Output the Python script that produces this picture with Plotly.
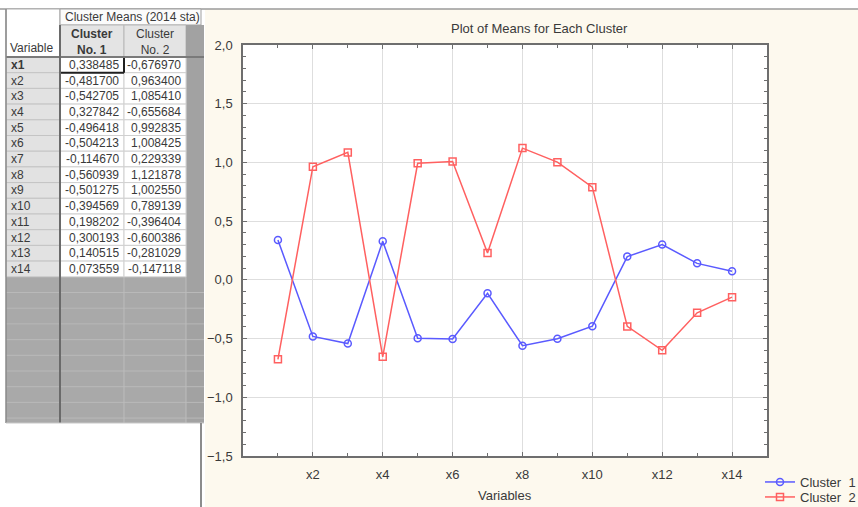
import plotly.graph_objects as go

# ---------------- data ----------------
variables = ["x1", "x2", "x3", "x4", "x5", "x6", "x7",
             "x8", "x9", "x10", "x11", "x12", "x13", "x14"]
cluster1 = [0.338485, -0.481700, -0.542705, 0.327842, -0.496418, -0.504213, -0.114670,
            -0.560939, -0.501275, -0.394569, 0.198202, 0.300193, 0.140515, 0.073559]
cluster2 = [-0.676970, 0.963400, 1.085410, -0.655684, 0.992835, 1.008425, 0.229339,
            1.121878, 1.002550, 0.789139, -0.396404, -0.600386, -0.281029, -0.147118]
series_names = ["Cluster\u00a0\u00a01", "Cluster\u00a0\u00a02"]
table_title = "Cluster Means (2014 sta)"
col_headers = ["Cluster<br>No. 1", "Cluster<br>No. 2"]
positions = list(range(1, len(variables) + 1))
tick_pos = positions[1::2]
tick_txt = variables[1::2]

# ---------------- layout helpers (pixel -> paper) ----------------
W, H = 858, 507
FONT = "Arial, Liberation Sans, sans-serif"
TXT = "#3a3a3a"
CREAM = "#fdf9ee"


def px(x):
    return x / W


def py(y):
    return 1 - y / H


shapes = []
annotations = []


def rect(x0, y0, x1, y1, fill, line_color=None, lw=0):
    shapes.append(dict(type="rect", xref="paper", yref="paper",
                       x0=px(x0), x1=px(x1), y0=py(y1), y1=py(y0),
                       fillcolor=fill, line=dict(width=lw, color=line_color or fill)))


def line(x0, y0, x1, y1, color, lw=1):
    shapes.append(dict(type="line", xref="paper", yref="paper",
                       x0=px(x0), x1=px(x1), y0=py(y0), y1=py(y1),
                       line=dict(width=lw, color=color)))


def text(x, y, s, xanchor="left", size=12, bold=False, color=TXT):
    if bold:
        s = "<b>" + s.replace("<br>", "</b><br><b>") + "</b>"
    annotations.append(dict(xref="paper", yref="paper", x=px(x), y=py(y), text=s,
                            showarrow=False, xanchor=xanchor, yanchor="middle",
                            font=dict(family=FONT, size=size, color=color)))


# ---------------- background pieces ----------------
rect(0, 0, 205, H, "white")
rect(0, 0, W, 9, "white")
line(0, 9, W, 9, "#9a9a9a", 1.5)

# ---------------- spreadsheet table ----------------
TL, C0, C1, C2, C3 = 6, 60, 124, 186, 204
HR1, HR2 = 9, 25
ROW0, ROWH = 57, 15.7
n = len(variables)
data_bottom = ROW0 + n * ROWH
GRAY_BOTTOM = 423

# header cells
rect(TL, HR1, C0, ROW0, "white", "#b0b0b0", 1)
rect(C0, HR1, 201, HR2, "#fbfbfb", "#a0a0a0", 1)
rect(C0, HR2, C1, ROW0, "#e4e4e4", "#b8b8b8", 1)
rect(C1, HR2, C2, ROW0, "#e4e4e4", "#b8b8b8", 1)
rect(C2, HR2, C3, GRAY_BOTTOM, "#a2a2a2")
# empty grey area below the data rows
rect(TL, data_bottom, C2, GRAY_BOTTOM, "#a9a9a9")
k = 1
while data_bottom + k * ROWH < GRAY_BOTTOM - 2:
    line(TL, data_bottom + k * ROWH, C3, data_bottom + k * ROWH, "#b9b9b9", 1)
    k += 1
line(C1, data_bottom, C1, GRAY_BOTTOM, "#bcbcbc", 1)
line(C2, ROW0, C2, GRAY_BOTTOM, "#bcbcbc", 1)

# data rows
for i, (v, a, b) in enumerate(zip(variables, cluster1, cluster2)):
    y0 = ROW0 + i * ROWH
    y1 = y0 + ROWH
    rect(TL, y0, C0, y1, "#e2e2e2", "#c4c4c4", 1)
    rect(C0, y0, C1, y1, "white", "#d0d0d0", 1)
    rect(C1, y0, C2, y1, "white", "#d0d0d0", 1)
    yc = (y0 + y1) / 2
    text(TL + 3, yc, v, bold=(i == 0))
    text(C1 - 3, yc, f"{a:.6f}".replace(".", ","), xanchor="right")
    text(C2 - 3, yc, f"{b:.6f}".replace(".", ","), xanchor="right")

# selected cell outline
line(C0 + 1, ROW0 + ROWH, C1, ROW0 + ROWH, "#202020", 2)
line(C1, ROW0, C1, ROW0 + ROWH, "#202020", 2)

# heavy separators
line(TL, ROW0, C3, ROW0, "#7a7a7a", 2)
line(C0, HR2, C0, GRAY_BOTTOM, "#6a6a6a", 2)
line(TL, HR1, TL, GRAY_BOTTOM, "#8a8a8a", 1.5)
line(TL, GRAY_BOTTOM, C3, GRAY_BOTTOM, "#c8c8c8", 1)
line(201, GRAY_BOTTOM, 201, H, "#8c8c8c", 2)

# header texts
text(C0 + 3, (HR1 + HR2) / 2, table_title)
text(TL + 2, 48, "Variable")
text((C0 + C1) / 2, 42, col_headers[0], xanchor="center", bold=True)
text((C1 + C2) / 2, 42, col_headers[1], xanchor="center")

# chart title & axis title
text(539, 29, "Plot of Means for Each Cluster", xanchor="center", size=13)
text(505, 495, "Variables", xanchor="center", size=13)

# ---------------- chart ----------------
fig = go.Figure()
fig.add_trace(go.Scatter(
    x=positions, y=cluster1, name=series_names[0], mode="lines+markers", legend="legend",
    line=dict(color="#5a5aff", width=1.5),
    marker=dict(symbol="circle-open", size=7, color="#5a5aff", line=dict(width=1.5))))
fig.add_trace(go.Scatter(
    x=positions, y=cluster2, name=series_names[1], mode="lines+markers", legend="legend2",
    line=dict(color="#ff6060", width=1.5),
    marker=dict(symbol="square-open", size=7, color="#ff6060", line=dict(width=1.5))))

axis_common = dict(showline=True, linecolor="#6e6e6e", linewidth=1.5, mirror="allticks",
                   ticks="inside", ticklen=4, tickcolor="#6e6e6e",
                   gridcolor="#dedede", gridwidth=1, zeroline=False, automargin=False,
                   tickfont=dict(family=FONT, size=13, color=TXT))

legend_common = dict(xanchor="left", yanchor="middle", bgcolor="rgba(0,0,0,0)",
                     font=dict(family=FONT, size=13, color=TXT))

fig.update_layout(
    width=W, height=H, margin=dict(l=0, r=0, t=0, b=0, autoexpand=False),
    paper_bgcolor=CREAM, plot_bgcolor="white",
    separators=",.",
    showlegend=True,
    legend=dict(x=px(760), y=py(482), **legend_common),
    legend2=dict(x=px(760), y=py(497), **legend_common),
    xaxis=dict(domain=[px(243), px(767)], range=[0, 15],
               tickvals=tick_pos, ticktext=tick_txt, ticklabelstandoff=6,
               minor=dict(dtick=1, tick0=0, ticks="inside", ticklen=3, tickcolor="#6e6e6e",
                          showgrid=False),
               **axis_common),
    yaxis=dict(domain=[py(456), py(45)], range=[-1.5, 2.0],
               dtick=0.5, tick0=0, tickformat=".1f", ticklabelstandoff=6,
               minor=dict(dtick=0.1, tick0=0, ticks="inside", ticklen=3, tickcolor="#6e6e6e",
                          showgrid=False),
               **axis_common),
    shapes=shapes,
    annotations=annotations,
)

fig.write_html(
    "out.html",
    config={"displayModeBar": False},
    post_script="document.body.style.margin='0';document.body.style.overflow='hidden';",
)
